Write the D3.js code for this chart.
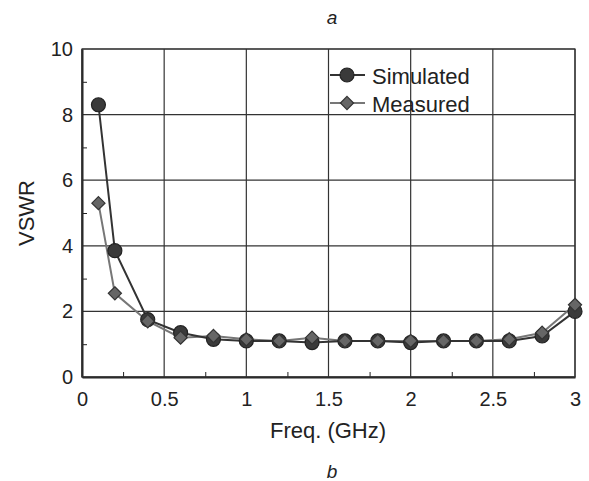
<!DOCTYPE html>
<html>
<head>
<meta charset="utf-8">
<script src="https://cdn.jsdelivr.net/npm/d3@7"></script>
<style>
  body { margin: 0; background: #fff; }
  svg { font-family: "Liberation Sans", Arial, sans-serif; }
  .grid line { stroke: #333; stroke-width: 1.2; }
  .axis path, .axis line { stroke: #222; }
  .axis text { font-size: 20px; fill: #222; }
</style>
</head>
<body>
<div class="chart"></div>
<script>
// frequency points (GHz)
const freq = [0.1, 0.2, 0.4, 0.6, 0.8, 1.0, 1.2, 1.4, 1.6, 1.8, 2.0, 2.2, 2.4, 2.6, 2.8, 3.0];
const simulated = [8.3, 3.85, 1.75, 1.35, 1.15, 1.1, 1.1, 1.05, 1.1, 1.1, 1.05, 1.1, 1.1, 1.1, 1.25, 2.0];
const measured = [5.3, 2.55, 1.7, 1.2, 1.25, 1.15, 1.1, 1.2, 1.1, 1.1, 1.1, 1.1, 1.1, 1.15, 1.35, 2.2];
const xTicks = [0, 0.5, 1, 1.5, 2, 2.5, 3];
const yTicks = [0, 2, 4, 6, 8, 10];
const seriesNames = ['Simulated', 'Measured'];

const W = 589, H = 481;
const margin = { top: 49, right: 14, bottom: 104, left: 82 };
const width = W - margin.left - margin.right;
const height = H - margin.top - margin.bottom;

const svg = d3.select('.chart').append('svg').attr('width', W).attr('height', H);
const g = svg.append('g').attr('transform', 'translate(' + margin.left + ',' + margin.top + ')');

const x = d3.scaleLinear().domain([0, 3]).range([0, width]);
const y = d3.scaleLinear().domain([0, 10]).range([height, 0]);

// grid
const grid = g.append('g').classed('grid', true);
grid.selectAll('.vx').data(xTicks).enter().append('line')
  .attr('x1', d => x(d)).attr('x2', d => x(d)).attr('y1', 0).attr('y2', height);
grid.selectAll('.hy').data(yTicks).enter().append('line')
  .attr('x1', 0).attr('x2', width).attr('y1', d => y(d)).attr('y2', d => y(d));

// minor ticks (inward)
g.append('g').attr('class', 'axis')
  .attr('transform', 'translate(0,' + height + ')')
  .call(d3.axisBottom(x).tickValues([0.25, 0.75, 1.25, 1.75, 2.25, 2.75]).tickSize(-5).tickFormat(''))
  .select('.domain').remove();
g.append('g').attr('class', 'axis')
  .call(d3.axisLeft(y).tickValues([1, 3, 5, 7, 9]).tickSize(-5).tickFormat(''))
  .select('.domain').remove();

// major axes
const xAxis = g.append('g').attr('class', 'axis')
  .attr('transform', 'translate(0,' + height + ')')
  .call(d3.axisBottom(x).tickValues(xTicks).tickSize(0).tickPadding(15).tickFormat(d3.format('')));
const yAxis = g.append('g').attr('class', 'axis')
  .call(d3.axisLeft(y).tickValues(yTicks).tickSize(0).tickPadding(9));
xAxis.select('.domain').attr('stroke-width', 2);
yAxis.select('.domain').attr('stroke-width', 2);

// frame
g.append('rect').attr('width', width).attr('height', height)
  .attr('fill', 'none').attr('stroke', '#333').attr('stroke-width', 1.2);

const simData = freq.map((f, i) => ({ x: f, y: simulated[i] }));
const meaData = freq.map((f, i) => ({ x: f, y: measured[i] }));

const line = d3.line().x(d => x(d.x)).y(d => y(d.y));

g.append('path').datum(meaData).attr('d', line)
  .attr('fill', 'none').attr('stroke', '#777').attr('stroke-width', 2);
g.append('path').datum(simData).attr('d', line)
  .attr('fill', 'none').attr('stroke', '#333').attr('stroke-width', 2);

const diamond = d3.symbol().type(d3.symbolDiamond2).size(110);

g.selectAll('.sim').data(simData).enter().append('circle')
  .attr('cx', d => x(d.x)).attr('cy', d => y(d.y)).attr('r', 7)
  .attr('fill', '#3a3a3a').attr('stroke', '#222').attr('stroke-width', 1.2);
g.selectAll('.mea').data(meaData).enter().append('path')
  .attr('d', diamond)
  .attr('transform', d => 'translate(' + x(d.x) + ',' + y(d.y) + ')')
  .attr('fill', '#666').attr('stroke', '#333').attr('stroke-width', 1.2);

// legend
const legend = g.append('g').attr('transform', 'translate(' + (330 - margin.left) + ',' + (75 - margin.top) + ')');
seriesNames.forEach((name, i) => {
  const row = legend.append('g').attr('transform', 'translate(0,' + (i * 28) + ')');
  row.append('line').attr('x1', 0).attr('x2', 35).attr('y1', 0).attr('y2', 0)
    .attr('stroke', i === 0 ? '#333' : '#777').attr('stroke-width', 2);
  if (i === 0) {
    row.append('circle').attr('cx', 17).attr('cy', 0).attr('r', 7)
      .attr('fill', '#3a3a3a').attr('stroke', '#222').attr('stroke-width', 1.2);
  } else {
    row.append('path').attr('d', diamond).attr('transform', 'translate(17,0)')
      .attr('fill', '#666').attr('stroke', '#333').attr('stroke-width', 1.2);
  }
  row.append('text').attr('x', 42).attr('y', 9).attr('font-size', 22).attr('fill', '#222').text(name);
});

// titles
svg.append('text').attr('x', 328).attr('y', 438)
  .attr('text-anchor', 'middle').attr('font-size', 22).attr('fill', '#222').text('Freq. (GHz)');
svg.append('text').attr('transform', 'translate(34,213) rotate(-90)')
  .attr('text-anchor', 'middle').attr('font-size', 22).attr('fill', '#222').text('VSWR');
svg.append('text').attr('x', 332).attr('y', 24).attr('text-anchor', 'middle')
  .attr('font-size', 19).attr('font-style', 'italic').attr('fill', '#222').text('a');
svg.append('text').attr('x', 332).attr('y', 478).attr('text-anchor', 'middle')
  .attr('font-size', 19).attr('font-style', 'italic').attr('fill', '#222').text('b');
</script>
</body>
</html>
